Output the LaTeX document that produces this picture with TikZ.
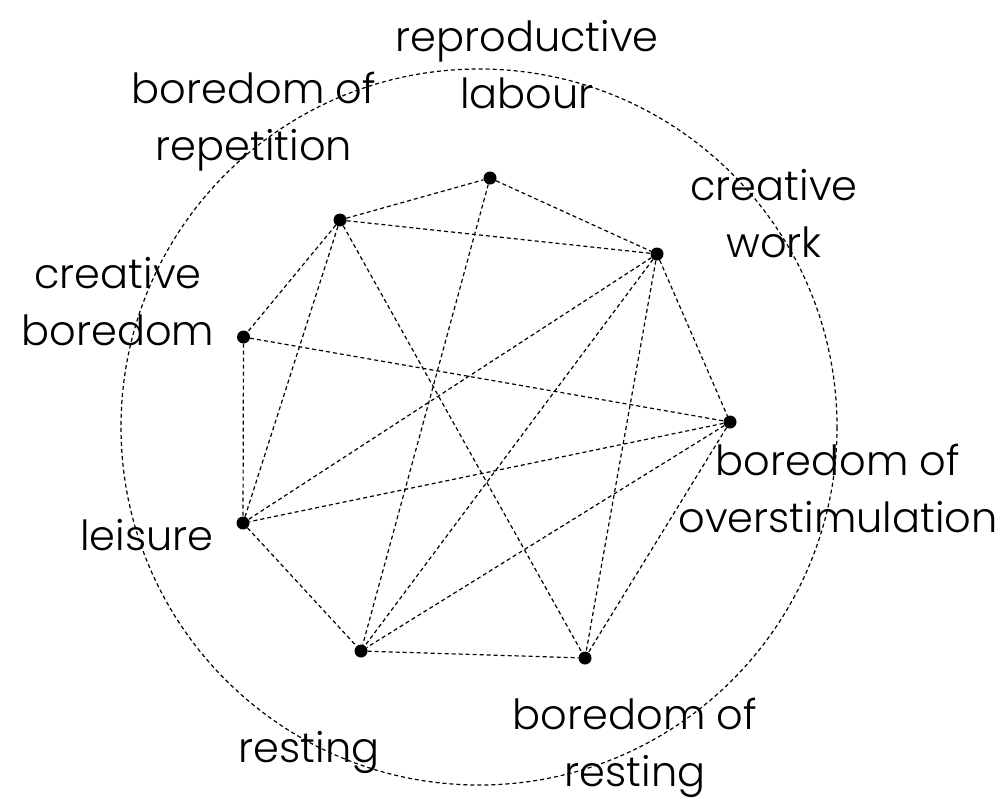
\documentclass[tikz,border=0pt]{standalone}
\usepackage{fontspec}
\setmainfont{Poppins}[UprightFont={* Light}]
\begin{document}
\begin{tikzpicture}[x=1pt,y=-1pt,
  dot/.style={circle,fill=black,inner sep=0pt,minimum size=13pt},
  link/.style={draw=black,line width=1.2pt,dash pattern=on 4pt off 3pt},
  lbl/.style={align=center,inner sep=0pt,font=\fontsize{41.5}{57}\selectfont}]
\useasboundingbox (0,0) rectangle (1008,811);
\draw[link] (479,427) circle (358);
\node[dot] (rl) at (490,178) {};
\node[dot] (br) at (340,220) {};
\node[dot] (cw) at (657,254) {};
\node[dot] (cb) at (243.5,337) {};
\node[dot] (bo) at (730,422) {};
\node[dot] (le) at (243,523) {};
\node[dot] (re) at (361,651) {};
\node[dot] (bs) at (585,658) {};
\foreach \a/\b in {br/rl,br/cw,rl/cw,cw/bo,br/cb,br/le,br/bs,rl/re,cb/le,cb/bo,cw/le,cw/re,cw/bs,bo/le,bo/re,bo/bs,le/re,re/bs}
  \draw[link] (\a) -- (\b);
\node[lbl] (trl) at (527,65) {reproductive\\labour};
\node[lbl] (tbr) at (254,122) {boredom of\\repetition};
\node[lbl] (tcw) at (774,214) {creative\\work};
\node[lbl] (tcb) at (118,302) {creative\\boredom};
\node[lbl] (tbo) at (838,488) {boredom of\\overstimulation};
\node[lbl] (tle) at (147,535) {leisure};
\node[lbl] (tbs) at (635,748) {boredom of\\resting};
\node[lbl] (tre) at (309,752) {resting};
\end{tikzpicture}
\end{document}
